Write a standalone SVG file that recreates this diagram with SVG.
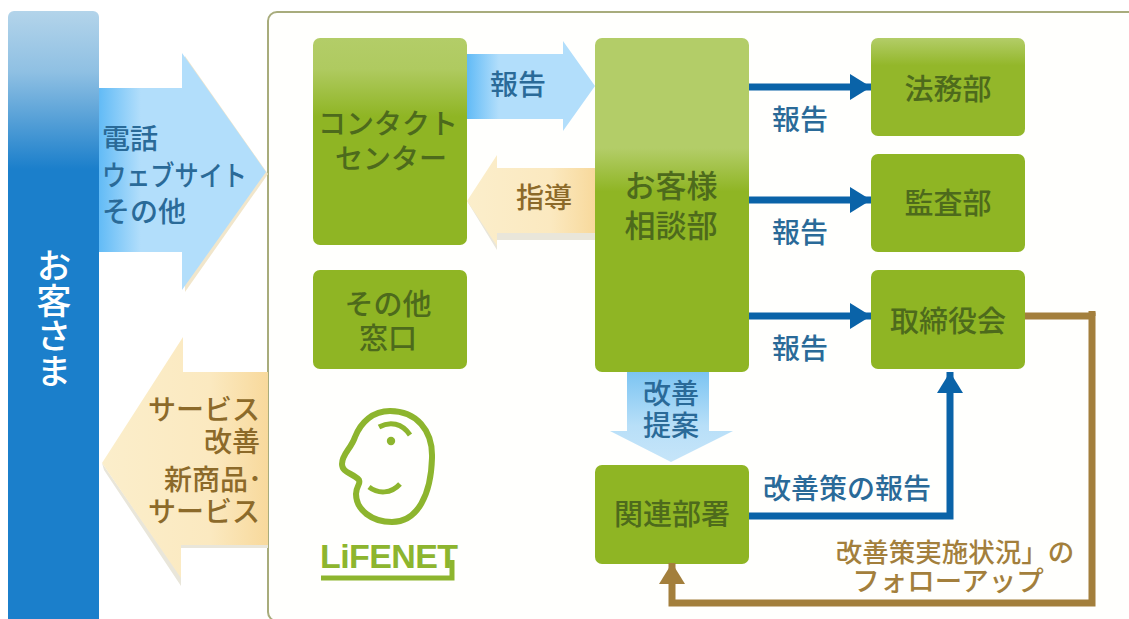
<svg xmlns="http://www.w3.org/2000/svg" width="1129" height="619" viewBox="0 0 1129 619">
<defs>
<linearGradient id="bar" x1="0" y1="0" x2="0" y2="1"><stop offset="0" stop-color="#b3d4ea"/><stop offset="0.1" stop-color="#8fc0e3"/><stop offset="0.26" stop-color="#1b7fcb"/><stop offset="1" stop-color="#1b7fcb"/></linearGradient>
<linearGradient id="blueH" x1="0" y1="0" x2="1" y2="0"><stop offset="0" stop-color="#62bbf6"/><stop offset="0.25" stop-color="#b2defb"/><stop offset="1" stop-color="#b2defb"/></linearGradient>
<linearGradient id="blueV" x1="0" y1="0" x2="0" y2="1"><stop offset="0" stop-color="#7cc4f2"/><stop offset="0.6" stop-color="#b8dff8"/><stop offset="1" stop-color="#c6e5f9"/></linearGradient>
<linearGradient id="creamL" x1="0" y1="0" x2="1" y2="0"><stop offset="0" stop-color="#fbeecb"/><stop offset="0.65" stop-color="#fbe9c0"/><stop offset="1" stop-color="#f8d99c"/></linearGradient>
<linearGradient id="box" x1="0" y1="0" x2="0" y2="1"><stop offset="0" stop-color="#b3cd68"/><stop offset="0.28" stop-color="#93b72a"/><stop offset="1" stop-color="#93b72a"/></linearGradient>
<linearGradient id="boxC" x1="0" y1="0" x2="0" y2="1"><stop offset="0" stop-color="#b3cd68"/><stop offset="0.15" stop-color="#afca60"/><stop offset="0.38" stop-color="#8fb524"/><stop offset="1" stop-color="#8fb524"/></linearGradient>
<linearGradient id="boxTall" x1="0" y1="0" x2="0" y2="1"><stop offset="0" stop-color="#b3cd68"/><stop offset="0.33" stop-color="#b3cd68"/><stop offset="0.46" stop-color="#8fb524"/><stop offset="1" stop-color="#8fb524"/></linearGradient>
<marker id="ab" markerUnits="userSpaceOnUse" markerWidth="22" markerHeight="26" refX="21" refY="13" orient="auto"><path d="M0 0L21 13L0 26Z" fill="#0a63a8"/></marker>
<marker id="abr" markerUnits="userSpaceOnUse" markerWidth="22" markerHeight="26" refX="21" refY="13" orient="auto"><path d="M0 0L21 13L0 26Z" fill="#a37f3c"/></marker>
</defs>
<style>
text{font-family:"Noto Sans CJK JP","Noto Sans",sans-serif;font-weight:500;text-anchor:middle}
.g{fill:#4d6a1c;font-size:29px}
.b{fill:#2a6a98;font-size:28px}
.r{fill:#8c6a2a;font-size:28px}
.rb{fill:#a37f3c}
.s{text-anchor:start}
.e{text-anchor:end}
.bx{fill:url(#box)}
.line{fill:none;stroke:#0a63a8;stroke-width:7}
.lr{fill:none;stroke:#a37f3c;stroke-width:7}
</style>
<rect width="1129" height="619" fill="#fff"/>
<g id="panel"><rect x="268" y="12" width="900" height="609" rx="9" fill="#fffffd" stroke="#a8ac7c" stroke-width="2"/></g>
<g id="customer"><path d="M8 619V17a6 6 0 0 1 6-6H93a6 6 0 0 1 6 6V619Z" fill="url(#bar)"/>
<text x="54" y="248" class="s" style="writing-mode:vertical-rl;font-size:35px;fill:#fff">お客さま</text></g>
<g id="arrow-in">
<path d="M185 56L268 174L185 292Z" fill="#f1e6cb"/>
<path d="M99 88H182V53L266 172L182 290V252H99Z" fill="url(#blueH)"/>
<text class="b s" x="102" y="149">電話</text>
<text class="b s" x="102" y="186" textLength="145" lengthAdjust="spacingAndGlyphs">ウェブサイト</text>
<text class="b s" x="102" y="222">その他</text>
</g>
<g id="arrow-out">
<path d="M102 463L104 470L181 586V548H268V540H180V575Z" fill="#e9e6da"/>
<path d="M268 372H183V337L102 463L181 578V545H268Z" fill="url(#creamL)"/>
<text class="r e" x="260" y="420">サービス</text>
<text class="r e" x="260" y="452">改善</text>
<text class="r e" x="262" y="490">新商品･</text>
<text class="r e" x="260" y="522">サービス</text>
</g>
<g id="contact"><rect x="313" y="38" width="154" height="207" rx="7" fill="url(#boxC)"/>
<text class="g" x="388" y="134" style="font-size:28px">コンタクト</text><text class="g" x="391" y="169" style="font-size:28px">センター</text></g>
<g id="other"><rect x="313" y="270" width="154" height="99" rx="7" fill="#8fb524"/>
<text class="g" x="388" y="315">その他</text><text class="g" x="388" y="349">窓口</text></g>
<g id="report-arrow"><path d="M467 54H563V41L595 86L563 131V119H467Z" fill="url(#blueH)"/>
<text class="b" x="518" y="95">報告</text></g>
<g id="guide-arrow"><path d="M467 201L497 250V240H595V232H497Z" fill="#e9e6da"/><path d="M595 233H497V246L467 201L497 155V168H595Z" fill="url(#creamL)"/>
<text class="r" x="544" y="208">指導</text></g>
<g id="consult"><rect x="595" y="38" width="154" height="334" rx="7" fill="url(#boxTall)"/>
<text class="g" x="671" y="197" style="font-size:31px">お客様</text><text class="g" x="671" y="237" style="font-size:31px">相談部</text></g>
<g id="legal"><rect x="871" y="38" width="154" height="98" rx="7" class="bx"/><text class="g" x="948" y="100">法務部</text></g>
<g id="audit"><rect x="871" y="154" width="154" height="98" rx="7" fill="#8fb524"/><text class="g" x="948" y="214">監査部</text></g>
<g id="board"><rect x="871" y="270" width="154" height="99" rx="7" fill="#8fb524"/><text class="g" x="948" y="332">取締役会</text></g>
<g id="related"><rect x="595" y="465" width="154" height="99" rx="7" fill="#8fb524"/><text class="g" x="672" y="525">関連部署</text></g>
<g id="improve-arrow"><path d="M627 372H709V431H733L671 462L610 431H627Z" fill="url(#blueV)"/>
<text class="b" x="671" y="404">改善</text><text class="b" x="671" y="436">提案</text></g>
<g id="connectors">
<path class="line" marker-end="url(#ab)" d="M749 87H871"/>
<path class="line" marker-end="url(#ab)" d="M749 200H871"/>
<path class="line" marker-end="url(#ab)" d="M749 316H871"/>
<path class="line" marker-end="url(#ab)" d="M749 516H950V372"/>
<path class="lr" marker-end="url(#abr)" d="M1025 316H1092V603H672V563"/>
<path class="lr" d="M1092 311V316"/>
</g>
<g id="labels">
<text class="b" x="800" y="130">報告</text>
<text class="b" x="800" y="243">報告</text>
<text class="b" x="800" y="359">報告</text>
<text class="b" x="847" y="499">改善策の報告</text>
<text class="rb" x="955" y="562" style="font-size:26.5px">改善策実施状況」の</text>
<text class="rb" x="948" y="591" style="font-size:27.5px">フォローアップ</text>
</g>
<g id="logo">
<path d="M390 411C416 411 433 430 432 458C431 494 418 522 392 522C372 522 356 510 356 494C356 486 361 484 359 480C353 473 342 473 342 464C342 454 351 449 355 437C361 422 373 411 390 411Z" fill="none" stroke="#8db52e" stroke-width="6"/>
<path d="M379 427C390 421 402 423 410 435" fill="none" stroke="#8db52e" stroke-width="5"/>
<circle cx="391" cy="441" r="4.2" fill="#8db52e"/>
<path d="M369 487C378 494 391 494 400 484" fill="none" stroke="#8db52e" stroke-width="5"/>
<text x="320" y="568" class="s" textLength="138" lengthAdjust="spacing" style="font-family:'Liberation Sans',sans-serif;font-weight:700;font-size:34px;fill:#8db52e">LiFENET</text>
<path d="M321 578H452V560" fill="none" stroke="#8db52e" stroke-width="5"/>
</g>
</svg>
